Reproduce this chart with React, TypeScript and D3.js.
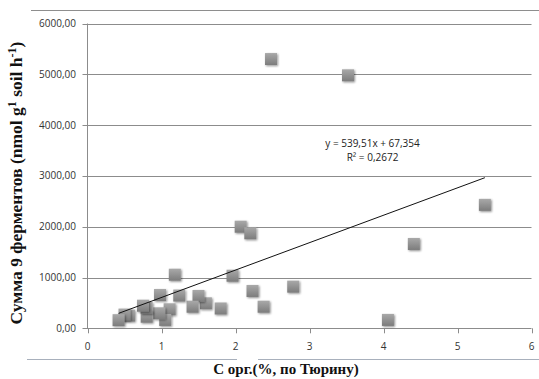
import React from "react";
import * as d3 from "d3";

const xValues = [2.48, 3.52, 5.37, 4.41, 4.06, 2.78, 2.38, 2.23, 2.07, 2.2, 1.96, 1.8, 1.6, 1.5, 1.42, 1.24, 1.18, 1.11, 1.05, 0.97, 0.98, 0.8, 0.8, 0.75, 0.56, 0.5, 0.42];
const yValues = [5300, 4980, 2430, 1660, 165, 820, 425, 735, 2000, 1870, 1035, 390, 492, 636, 425, 645, 1055, 374, 165, 295, 655, 228, 400, 445, 250, 270, 160];
const xTicks = [0, 1, 2, 3, 4, 5, 6];
const yTicks = [0, 1000, 2000, 3000, 4000, 5000, 6000];
const slope = 539.51;
const intercept = 67.354;
const equationText = "y = 539,51x + 67,354";
const r2Text = "R² = 0,2672";

const W = 539;
const H = 379;

export default function App() {
  const x = d3.scaleLinear().domain([0, 6]).range([87.5, 531.5]);
  const y = d3.scaleLinear().domain([0, 6000]).range([328.3, 23.5]);
  const fmt = (v: number) => v.toFixed(2).replace(".", ",");
  const xMin = d3.min(xValues) as number;
  const xMax = d3.max(xValues) as number;
  const line = d3
    .line<number>()
    .x((d) => x(d))
    .y((d) => y(slope * d + intercept));
  const sans = "'Open Sans', 'Liberation Sans', sans-serif";
  const serif = "'Liberation Serif', 'DejaVu Serif', serif";
  const s = 12;
  return (
    <svg
      width={W}
      height={H}
      style={{ position: "absolute", left: 0, top: 0, background: "#fff" }}
    >
      <defs>
        <linearGradient id="mk" x1="0" y1="0" x2="0" y2="1">
          <stop offset="0" stopColor="#a9a9a9" />
          <stop offset="1" stopColor="#7c7c7c" />
        </linearGradient>
        <filter id="sh" x="-50%" y="-50%" width="200%" height="200%">
          <feGaussianBlur in="SourceAlpha" stdDeviation="1.2" />
          <feOffset dx="0.5" dy="1" result="b" />
          <feComponentTransfer>
            <feFuncA type="linear" slope="0.45" />
          </feComponentTransfer>
          <feMerge>
            <feMergeNode />
            <feMergeNode in="SourceGraphic" />
          </feMerge>
        </filter>
      </defs>
      <rect x={0} y={0} width={W} height={H} fill="#fff" />
      <line x1={31} x2={539} y1={10.5} y2={10.5} stroke="#8e8e8e" strokeWidth={1} />
      <line x1={27} x2={237} y1={359.5} y2={359.5} stroke="#a8b0bc" strokeWidth={1.2} />
      <line x1={258} x2={539} y1={359.5} y2={359.5} stroke="#a8b0bc" strokeWidth={1.2} />
      {yTicks.map((t) => (
        <line
          key={"g" + t}
          x1={x(0) - 5}
          x2={x(6)}
          y1={Math.round(y(t)) + 0.5}
          y2={Math.round(y(t)) + 0.5}
          stroke="#8c8c8c"
          strokeWidth={1}
        />
      ))}
      <line x1={x(0)} x2={x(0)} y1={y(6000)} y2={y(0)} stroke="#8c8c8c" strokeWidth={1} />
      {xTicks.map((t) => (
        <line
          key={"xt" + t}
          x1={Math.round(x(t)) + 0.5}
          x2={Math.round(x(t)) + 0.5}
          y1={y(0)}
          y2={y(0) + 5}
          stroke="#8c8c8c"
          strokeWidth={1}
        />
      ))}
      {yTicks.map((t) => (
        <text
          key={"yl" + t}
          x={76}
          y={y(t) + 3.5}
          textAnchor="end"
          fontFamily={sans}
          fontSize={10}
          fill="#333"
        >
          {fmt(t)}
        </text>
      ))}
      {xTicks.map((t) => (
        <text
          key={"xl" + t}
          x={x(t)}
          y={350}
          textAnchor="middle"
          fontFamily={sans}
          fontSize={10}
          fill="#333"
        >
          {t}
        </text>
      ))}
      {xValues.map((xv, i) => (
        <rect
          key={"p" + i}
          x={x(xv) - s / 2}
          y={y(yValues[i]) - s / 2}
          width={s}
          height={s}
          fill="url(#mk)"
          filter="url(#sh)"
        />
      ))}
      <path d={line([xMin, xMax]) || ""} fill="none" stroke="#111" strokeWidth={1} />
      <text x={372.5} y={147} textAnchor="middle" fontFamily={sans} fontSize={10} fill="#222">
        {equationText}
      </text>
      <text x={372.5} y={161} textAnchor="middle" fontFamily={sans} fontSize={10} fill="#222">
        {r2Text}
      </text>
      <text
        transform="translate(22,183) rotate(-90)"
        textAnchor="middle"
        fontFamily={serif}
        fontWeight="bold"
        fontSize={17.5}
        fill="#111"
      >
        Сумма 9 ферментов (nmol g
        <tspan dy={-6} fontSize={12}>1</tspan>
        <tspan dy={6}> soil h</tspan>
        <tspan dy={-6} fontSize={12}>-1</tspan>
        <tspan dy={6}>)</tspan>
      </text>
      <text
        x={286}
        y={374}
        textAnchor="middle"
        fontFamily={serif}
        fontWeight="bold"
        fontSize={15}
        fill="#111"
      >
        С орг.(%, по Тюрину)
      </text>
    </svg>
  );
}
